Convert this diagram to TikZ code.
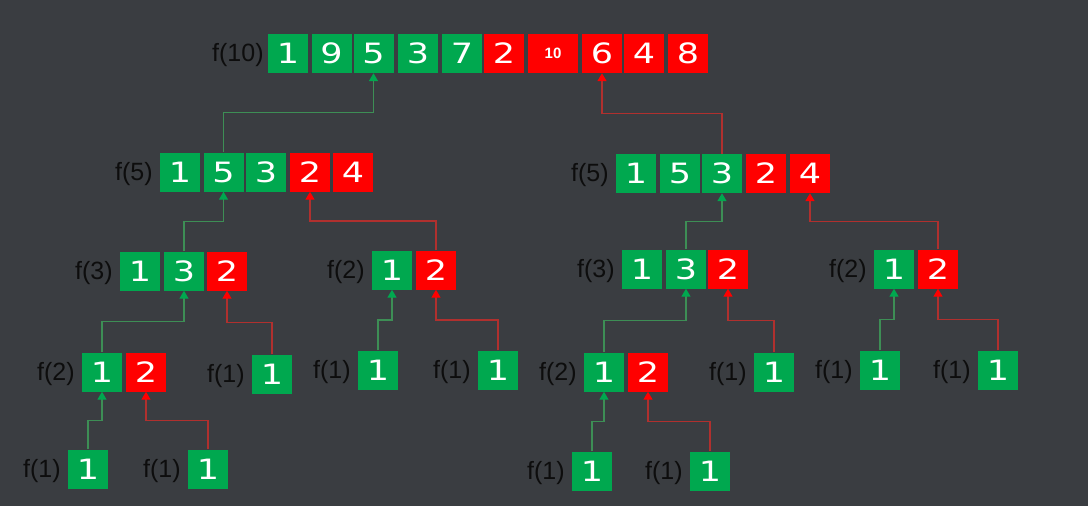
\documentclass[tikz,border=0pt]{standalone}
\usepackage{fontspec}
\setmainfont{Liberation Sans}
\newfontfamily\digitfont[FakeStretch=1.25]{DejaVu Sans}
\usetikzlibrary{arrows.meta}
\usetikzlibrary{calc}
\usetikzlibrary{positioning}

\definecolor{bggray}{HTML}{3A3D41}
\definecolor{boxgreen}{HTML}{00A84F}
\definecolor{boxred}{HTML}{FF0000}
\definecolor{linegreen}{HTML}{3D8E55}
\definecolor{linered}{HTML}{B0302E}

\tikzset{
  cell/.style={minimum width=40pt,minimum height=39pt,inner sep=0pt,text=white,
    font=\digitfont\fontsize{28}{30}\selectfont},
  gcell/.style={cell,fill=boxgreen},
  rcell/.style={cell,fill=boxred},
  tencell/.style={rcell,minimum width=50pt,font=\bfseries\fontsize{15}{16}\selectfont},
  fname/.style={anchor=east,inner sep=0pt,yshift=-2pt,text=black!95,font=\fontsize{25}{27}\selectfont},
  gup/.style={draw=linegreen,line width=1.4pt,-{Triangle[width=9pt,length=8pt,color=boxgreen]}},
  rup/.style={draw=linered,line width=1.4pt,-{Triangle[width=9pt,length=8pt,color=boxred]}},
  climb/.style={to path={|- ($(\tikztostart)!.5!(\tikztotarget)$) -| (\tikztotarget)}}
}

\begin{document}
\begin{tikzpicture}[x=1pt,y=-1pt]
    \fill[bggray] (0,0) rectangle (1088,506);
    \useasboundingbox (0,0) rectangle (1088,506);

    % f(10)
    \foreach \v/\s/\x [count=\i] in {1/gcell/288,9/gcell/331.5,5/gcell/373.5,3/gcell/418,7/gcell/462,2/rcell/504,10/tencell/553,6/rcell/602,4/rcell/644,8/rcell/688}
	\node[\s] (t\i) at (\x,53.5) {\v};
    \node[fname,left=4pt of t1] (ft) {f(10)};

    % f(5), left and right
    \foreach \v/\s/\x [count=\i] in {1/gcell/180,5/gcell/223.5,3/gcell/266,2/rcell/310,4/rcell/353}
	\node[\s] (p\i) at (\x,172) {\v};
    \node[fname,left=7pt of p1] (fp) {f(5)};
    \foreach \v/\s/\x [count=\i] in {1/gcell/636,5/gcell/680,3/gcell/722,2/rcell/766,4/rcell/810}
	\node[\s] (q\i) at (\x,173.5) {\v};
    \node[fname,left=7pt of q1] (fq) {f(5)};

    % f(3) and f(2)
    \foreach \v/\s/\x [count=\i] in {1/gcell/140,3/gcell/184,2/rcell/227}
	\node[\s] (pa\i) at (\x,271) {\v};
    \node[fname,left=7pt of pa1] (fpa) {f(3)};
    \foreach \v/\s/\x [count=\i] in {1/gcell/392,2/rcell/436}
	\node[\s] (pb\i) at (\x,270) {\v};
    \node[fname,left=7pt of pb1] (fpb) {f(2)};
    \foreach \v/\s/\x [count=\i] in {1/gcell/642,3/gcell/686,2/rcell/728}
	\node[\s] (qa\i) at (\x,269) {\v};
    \node[fname,left=7pt of qa1] (fqa) {f(3)};
    \foreach \v/\s/\x [count=\i] in {1/gcell/894,2/rcell/938}
	\node[\s] (qb\i) at (\x,269) {\v};
    \node[fname,left=7pt of qb1] (fqb) {f(2)};

    % f(2) and f(1) below them
    \node[gcell] (paa1) at (102,372) {1};
    \node[rcell] (paa2) at (146,372) {2};
    \node[fname,left=7pt of paa1] (fpaa) {f(2)};
    \node[gcell] (pab) at (272,374) {1};
    \node[fname,left=7pt of pab] (fpab) {f(1)};
    \node[gcell] (pba) at (378,370) {1};
    \node[fname,left=7pt of pba] (fpba) {f(1)};
    \node[gcell] (pbb) at (498,370) {1};
    \node[fname,left=7pt of pbb] (fpbb) {f(1)};
    \node[gcell] (qaa1) at (604,372) {1};
    \node[rcell] (qaa2) at (648,372) {2};
    \node[fname,left=7pt of qaa1] (fqaa) {f(2)};
    \node[gcell] (qab) at (774,372) {1};
    \node[fname,left=7pt of qab] (fqab) {f(1)};
    \node[gcell] (qba) at (880,370) {1};
    \node[fname,left=7pt of qba] (fqba) {f(1)};
    \node[gcell] (qbb) at (998,370) {1};
    \node[fname,left=7pt of qbb] (fqbb) {f(1)};

    % bottom f(1)
    \node[gcell] (paaa) at (88,469) {1};
    \node[fname,left=7pt of paaa] (fpaaa) {f(1)};
    \node[gcell] (paab) at (208,469) {1};
    \node[fname,left=7pt of paab] (fpaab) {f(1)};
    \node[gcell] (qaaa) at (592,471) {1};
    \node[fname,left=7pt of qaaa] (fqaaa) {f(1)};
    \node[gcell] (qaab) at (710,471) {1};
    \node[fname,left=7pt of qaab] (fqaab) {f(1)};

    % merge arrows
    \draw[gup] (p2.north) to[climb] (t3.south);
    \draw[rup] (q3.north) to[climb] (t8.south);
    \draw[gup] (pa2.north) to[climb] (p2.south);
    \draw[rup] (pb2.north) to[climb] (p4.south);
    \draw[gup] (qa2.north) to[climb] (q3.south);
    \draw[rup] (qb2.north) to[climb] (q5.south);
    \draw[gup] (paa1.north) to[climb] (pa2.south);
    \draw[rup] (pab.north) to[climb] (pa3.south);
    \draw[gup] (pba.north) to[climb] (pb1.south);
    \draw[rup] (pbb.north) to[climb] (pb2.south);
    \draw[gup] (qaa1.north) to[climb] (qa2.south);
    \draw[rup] (qab.north) to[climb] (qa3.south);
    \draw[gup] (qba.north) to[climb] (qb1.south);
    \draw[rup] (qbb.north) to[climb] (qb2.south);
    \draw[gup] (paaa.north) to[climb] (paa1.south);
    \draw[rup] (paab.north) to[climb] (paa2.south);
    \draw[gup] (qaaa.north) to[climb] (qaa1.south);
    \draw[rup] (qaab.north) to[climb] (qaa2.south);
\end{tikzpicture}
\end{document}
